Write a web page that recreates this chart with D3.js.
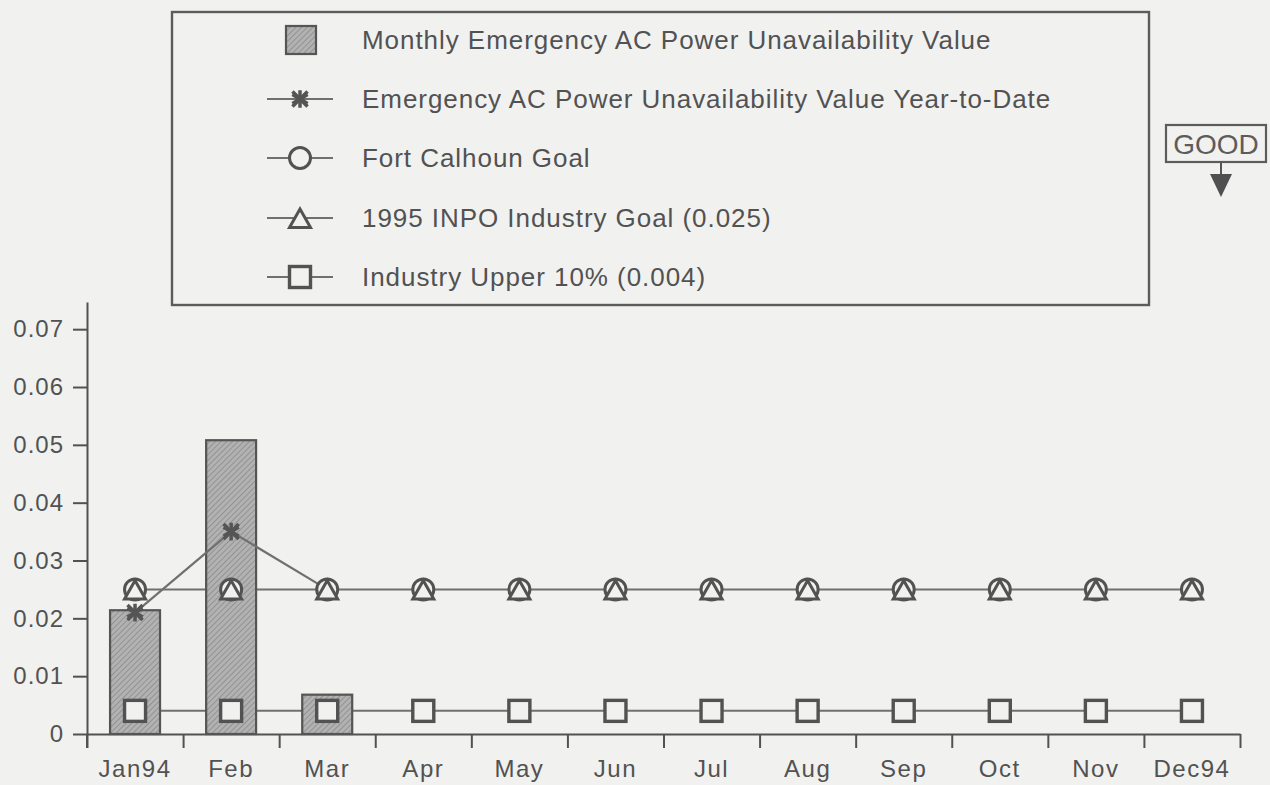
<!DOCTYPE html>
<html><head><meta charset="utf-8">
<script src="https://cdn.jsdelivr.net/npm/d3@7"></script>
<style>
html,body{margin:0;padding:0;background:#f1f1f0;}
svg{display:block;font-family:"Liberation Sans",Arial,Helvetica,sans-serif;}
</style></head>
<body><svg id="c" width="1270" height="785"></svg>
<script>
const months = ["Jan94","Feb","Mar","Apr","May","Jun","Jul","Aug","Sep","Oct","Nov","Dec94"];
const monthlyValue = [0.0214, 0.0508, 0.0068];
const ytdValue = [0.021, 0.035, 0.025];
const fortCalhounGoal = [0.025,0.025,0.025,0.025,0.025,0.025,0.025,0.025,0.025,0.025,0.025,0.025];
const inpoGoal = [0.025,0.025,0.025,0.025,0.025,0.025,0.025,0.025,0.025,0.025,0.025,0.025];
const upper10 = [0.004,0.004,0.004,0.004,0.004,0.004,0.004,0.004,0.004,0.004,0.004,0.004];
const yTicks = [0,0.01,0.02,0.03,0.04,0.05,0.06,0.07];
const legendLabels = [
  "Monthly Emergency AC Power Unavailability Value",
  "Emergency AC Power Unavailability Value Year-to-Date",
  "Fort Calhoun Goal",
  "1995 INPO Industry Goal (0.025)",
  "Industry Upper 10% (0.004)"
];

const ink = "#525252", lineCol = "#707070", bg = "#f1f1f0";
const svg = d3.select("#c");

const defs = svg.append("defs");
const pat = defs.append("pattern").attr("id","hatch").attr("patternUnits","userSpaceOnUse")
  .attr("width",4).attr("height",4).attr("patternTransform","rotate(45)");
pat.append("rect").attr("width",4).attr("height",4).attr("fill","#b2b2b2");
pat.append("line").attr("x1",0).attr("y1",0).attr("x2",0).attr("y2",4).attr("stroke","#8a8a8a").attr("stroke-width",1.6);

const x = d3.scaleBand().domain(months).range([87,1240]).paddingInner(0.48).paddingOuter(0.24);
const xb = d3.scaleLinear().domain([0,12]).range([87,1240]);
const y = d3.scaleLinear().domain([0,0.0747]).range([734,302]);
const cx = m => x(m) + x.bandwidth()/2;

// x axis: boundary ticks
const gx = svg.append("g").attr("transform","translate(0,734)")
  .call(d3.axisBottom(xb).tickValues(d3.range(0,13)).tickSize(14).tickSizeOuter(0).tickFormat(""));
gx.selectAll("path,line").attr("stroke",ink).attr("stroke-width",2);
// x labels
const gxl = svg.append("g").attr("transform","translate(0,734)")
  .call(d3.axisBottom(x).tickSize(0).tickPadding(26));
gxl.select(".domain").remove();
gxl.selectAll("text").attr("font-size",24).attr("fill",ink).attr("letter-spacing","1.5px")
  .attr("font-family","'Liberation Sans',Arial,sans-serif");

// y axis
const gy = svg.append("g").attr("transform","translate(87,0)")
  .call(d3.axisLeft(y).tickValues(yTicks).tickSize(14).tickPadding(9).tickSizeOuter(0)
    .tickFormat(d => d === 0 ? "0" : d3.format(".2f")(d)));
gy.selectAll("path,line").attr("stroke",ink).attr("stroke-width",2);
gy.selectAll("text").attr("font-size",24).attr("fill",ink).attr("letter-spacing","1px")
  .attr("font-family","'Liberation Sans',Arial,sans-serif");
gy.append("line").attr("x1",0).attr("x2",0).attr("y1",y(0)).attr("y2",y(0)+14).attr("stroke",ink).attr("stroke-width",2);

const lineGen = d3.line().x((d,i)=>cx(months[i])).y(d=>y(d));

// horizontal goal lines (beneath bars)
[upper10, fortCalhounGoal].forEach(s => {
  svg.append("path").attr("d", lineGen(s)).attr("fill","none").attr("stroke",lineCol).attr("stroke-width",2);
});

// bars
svg.append("g").selectAll("rect").data(monthlyValue).join("rect")
  .attr("x",(d,i)=>x(months[i])).attr("width",x.bandwidth())
  .attr("y",d=>y(d)).attr("height",d=>y(0)-y(d))
  .attr("fill","url(#hatch)").attr("stroke","#555").attr("stroke-width",2.2);

// YTD line on top
svg.append("path").attr("d", lineGen(ytdValue)).attr("fill","none").attr("stroke",lineCol).attr("stroke-width",2.2);

const sym = (type,size) => d3.symbol().type(type).size(size)();
function marker(g, kind, px, py){
  if(kind==="circle"){
    g.append("circle").attr("cx",px).attr("cy",py).attr("r",10.5).attr("fill",bg).attr("stroke",ink).attr("stroke-width",3);
  } else if(kind==="triangle"){
    g.append("path").attr("d","M0,-10L10.5,8.5L-10.5,8.5Z").attr("transform",`translate(${px},${py})`)
      .attr("fill",bg).attr("stroke",ink).attr("stroke-width",3).attr("stroke-linejoin","miter");
  } else if(kind==="square"){
    g.append("rect").attr("x",px-10.5).attr("y",py-10.5).attr("width",21).attr("height",21)
      .attr("fill",bg).attr("stroke",ink).attr("stroke-width",3.4);
  } else if(kind==="star"){
    g.append("path").attr("d",sym(d3.symbolAsterisk,220)).attr("transform",`translate(${px},${py})`)
      .attr("fill","none").attr("stroke","#555").attr("stroke-width",3.5);
    g.append("path").attr("d",sym(d3.symbolTimes,150)).attr("transform",`translate(${px},${py})`)
      .attr("fill","none").attr("stroke","#555").attr("stroke-width",3.5);
  }
}
const gm = svg.append("g");
upper10.forEach((v,i)=>marker(gm,"square",cx(months[i]),y(v)));
fortCalhounGoal.forEach((v,i)=>marker(gm,"circle",cx(months[i]),y(v)));
inpoGoal.forEach((v,i)=>marker(gm,"triangle",cx(months[i]),y(v)+1));
ytdValue.forEach((v,i)=>{ if(i<2) marker(gm,"star",cx(months[i]),y(v)); });

// legend
const lg = svg.append("g");
lg.append("rect").attr("x",172).attr("y",12).attr("width",977).attr("height",293)
  .attr("fill","none").attr("stroke","#5c5c5c").attr("stroke-width",2.4);
const rowY = [40,99,158,218,277];
const kinds = ["bar","star","circle","triangle","square"];
legendLabels.forEach((t,i)=>{
  const yy = rowY[i];
  if(kinds[i]==="bar"){
    lg.append("rect").attr("x",286).attr("y",yy-14).attr("width",30).attr("height",28)
      .attr("fill","url(#hatch)").attr("stroke","#555").attr("stroke-width",2.2);
  } else {
    lg.append("line").attr("x1",267).attr("x2",333).attr("y1",yy).attr("y2",yy).attr("stroke",lineCol).attr("stroke-width",2.2);
    marker(lg,kinds[i],300,kinds[i]==="triangle"?yy+1:yy);
  }
  lg.append("text").attr("x",362).attr("y",yy).attr("dy","0.36em").attr("font-size",26)
    .attr("letter-spacing","0.95px").attr("fill",ink).text(t);
});

// GOOD indicator
const gg = svg.append("g");
gg.append("rect").attr("x",1166).attr("y",125).attr("width",100).attr("height",37)
  .attr("fill","none").attr("stroke","#5c5c5c").attr("stroke-width",2.2);
gg.append("text").attr("x",1216).attr("y",144).attr("dy","0.36em").attr("text-anchor","middle")
  .attr("font-size",28).attr("fill","#5c5c5c").text("GOOD");
gg.append("line").attr("x1",1221).attr("x2",1221).attr("y1",162).attr("y2",178).attr("stroke","#555").attr("stroke-width",2);
gg.append("path").attr("d","M1210,174L1232,174L1221,197Z").attr("fill","#505050");
</script></body></html>
